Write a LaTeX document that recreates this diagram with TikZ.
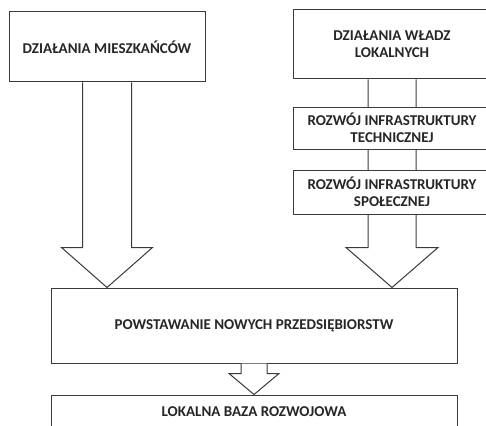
\documentclass[tikz,border=0pt]{standalone}
\usepackage{fontspec}
\setmainfont{Carlito}
\usetikzlibrary{positioning}
\definecolor{linegray}{HTML}{3A3A3A}

\begin{document}
\begin{tikzpicture}[
    x=1pt, y=-1pt,
    box/.style={rectangle, draw=linegray, line width=1pt, fill=white, align=center, inner sep=2pt,
        font=\bfseries\fontsize{15}{17}\selectfont, text=black!85},
    barrow/.style={draw=linegray, line width=1pt, fill=white, line join=miter}
]
\useasboundingbox (0,0) rectangle (486,425);
\clip (0,0) rectangle (486,425);

\node[box, minimum width=196pt, minimum height=70pt] (mieszk) at (107,47) {DZIAŁANIA MIESZKAŃCÓW};
\node[box, minimum width=198pt, minimum height=69pt] (wladze) at (392,44.5) {DZIAŁANIA WŁADZ\\LOKALNYCH};
\node[box, minimum width=406pt, minimum height=75pt] (nowe) at (254,325.5) {POWSTAWANIE NOWYCH PRZEDSIĘBIORSTW};
\node[box, minimum width=406pt, minimum height=34pt, below=31pt of nowe] (baza) {LOKALNA BAZA ROZWOJOWA};

% block arrows
\coordinate (tipL) at (mieszk.south |- nowe.north);
\coordinate (tipR) at (wladze.south |- nowe.north);
\draw[barrow] ([xshift=-24.5pt]mieszk.south) -- ([shift={(-24.5pt,40pt)}]tipL) -- ([shift={(-45.5pt,40pt)}]tipL)
    -- (tipL) -- ([shift={(45.5pt,40pt)}]tipL) -- ([shift={(24.5pt,40pt)}]tipL) -- ([xshift=24.5pt]mieszk.south);
\draw[barrow] ([xshift=-24pt]wladze.south) -- ([shift={(-24pt,40pt)}]tipR) -- ([shift={(-46pt,40pt)}]tipR)
    -- (tipR) -- ([shift={(46pt,40pt)}]tipR) -- ([shift={(24pt,40pt)}]tipR) -- ([xshift=24pt]wladze.south);
\draw[barrow] ([xshift=-13pt]nowe.south) -- ([shift={(-13pt,21pt)}]baza.north) -- ([shift={(-25pt,21pt)}]baza.north)
    -- (baza.north) -- ([shift={(25pt,21pt)}]baza.north) -- ([shift={(13pt,21pt)}]baza.north) -- ([xshift=13pt]nowe.south);

\node[box, minimum width=198pt, minimum height=42pt, below=27pt of wladze] (tech) {ROZWÓJ INFRASTRUKTURY\\TECHNICZNEJ};
\node[box, minimum width=198pt, minimum height=44pt, below=20pt of tech] (spol) {ROZWÓJ INFRASTRUKTURY\\SPOŁECZNEJ};
\end{tikzpicture}
\end{document}
